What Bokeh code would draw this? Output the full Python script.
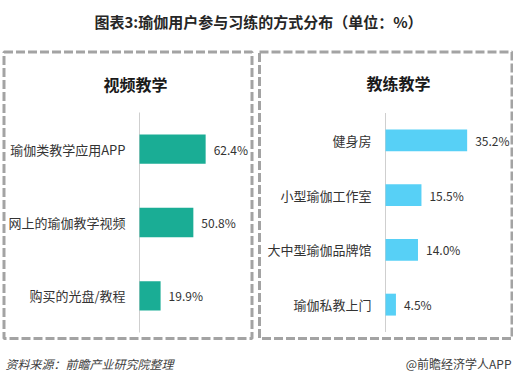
from bokeh.plotting import figure
from bokeh.models import Range1d, ColumnDataSource
from bokeh.core.properties import value
from bokeh.embed import file_html
from bokeh.resources import INLINE

# ---------------- data ----------------
TITLE = "图表3:瑜伽用户参与习练的方式分布（单位：%）"
LEFT_TITLE = "视频教学"
LEFT_CATS = ["瑜伽类教学应用APP", "网上的瑜伽教学视频", "购买的光盘/教程"]
LEFT_VALS = [62.4, 50.8, 19.9]
RIGHT_TITLE = "教练教学"
RIGHT_CATS = ["健身房", "小型瑜伽工作室", "大中型瑜伽品牌馆", "瑜伽私教上门"]
RIGHT_VALS = [35.2, 15.5, 14.0, 4.5]
SOURCE_TEXT = "资料来源：前瞻产业研究院整理"
CREDIT_TEXT = "@前瞻经济学人APP"

# ---------------- layout ----------------
W, H = 513, 374
X0, X1 = 0, W
Y0, Y1 = 0, H

FONT = value("Noto Sans CJK SC")
TEAL = "#1AAD95"
BLUE = "#57D0F6"
BORDER = "#A3A3A3"

p = figure(width=W, height=H, output_backend="svg", toolbar_location=None,
           x_range=Range1d(X0, X1), y_range=Range1d(Y1, Y0),
           x_axis_location=None, y_axis_location=None, min_border=0,
           outline_line_color=None, background_fill_color="white",
           border_fill_color="white")
p.grid.visible = False

# dashed panel boxes (decoration)
p.quad(left=[3.5, 259], right=[251.5, 511.5], top=[51.5, 51.5], bottom=[338, 338],
       fill_color=None, line_color=BORDER, line_width=3, line_dash="9 3")

# main title
p.text(x=[258], y=[21], text=[TITLE], text_font=FONT, text_font_size="15px",
       text_font_style="bold", text_color="#262626", text_align="center",
       text_baseline="middle")

# footer
p.text(x=[5], y=[363], text=[SOURCE_TEXT], text_font=FONT, text_font_size="12px",
       text_font_style="italic", text_color="#404040", text_align="left",
       text_baseline="middle")
p.text(x=[511], y=[363], text=[CREDIT_TEXT], text_font=FONT, text_font_size="12px",
       text_color="#404040", text_align="right", text_baseline="middle")


def panel(name, title, title_xy, cats, vals, color, axis_x, px_per, y_top, y_bot):
    n = len(cats)
    step = (y_bot - y_top) / n
    p.extra_x_ranges[name] = Range1d((X0 - axis_x) / px_per, (X1 - axis_x) / px_per)
    p.extra_y_ranges[name] = Range1d((Y1 - y_top) / step, (Y0 - y_top) / step)
    pos = [i + 0.5 for i in range(n)]
    src = ColumnDataSource(dict(cat=cats, val=vals, pos=pos,
                                lab=[f"{v:.1f}%" for v in vals]))
    # axis line
    p.segment(x0=[0], x1=[0], y0=[0], y1=[n], line_color="#CFCFCF", line_width=1,
              x_range_name=name, y_range_name=name)
    p.hbar(y="pos", left=0, right="val", height=0.4, source=src, fill_color=color,
           line_color=None, x_range_name=name, y_range_name=name)
    p.text(x=0, y="pos", text="cat", source=src, x_offset=-14, text_align="right",
           text_baseline="middle", text_font=FONT, text_font_size="13px",
           text_color="#333333", x_range_name=name, y_range_name=name)
    p.text(x="val", y="pos", text="lab", source=src, x_offset=8, text_align="left",
           text_baseline="middle", text_font=FONT, text_font_size="12px",
           text_color="#333333", x_range_name=name, y_range_name=name)
    p.text(x=[title_xy[0]], y=[title_xy[1]], text=[title], text_font=FONT,
           text_font_size="16px", text_font_style="bold", text_color="#1A1A1A",
           text_align="center", text_baseline="middle")


panel("left", LEFT_TITLE, (135, 83), LEFT_CATS, LEFT_VALS, TEAL, 139, 1.06, 112, 332)
panel("right", RIGHT_TITLE, (398, 82), RIGHT_CATS, RIGHT_VALS, BLUE, 385, 2.32, 112.5, 331.5)

open("out.html", "w").write(file_html(p, INLINE))
